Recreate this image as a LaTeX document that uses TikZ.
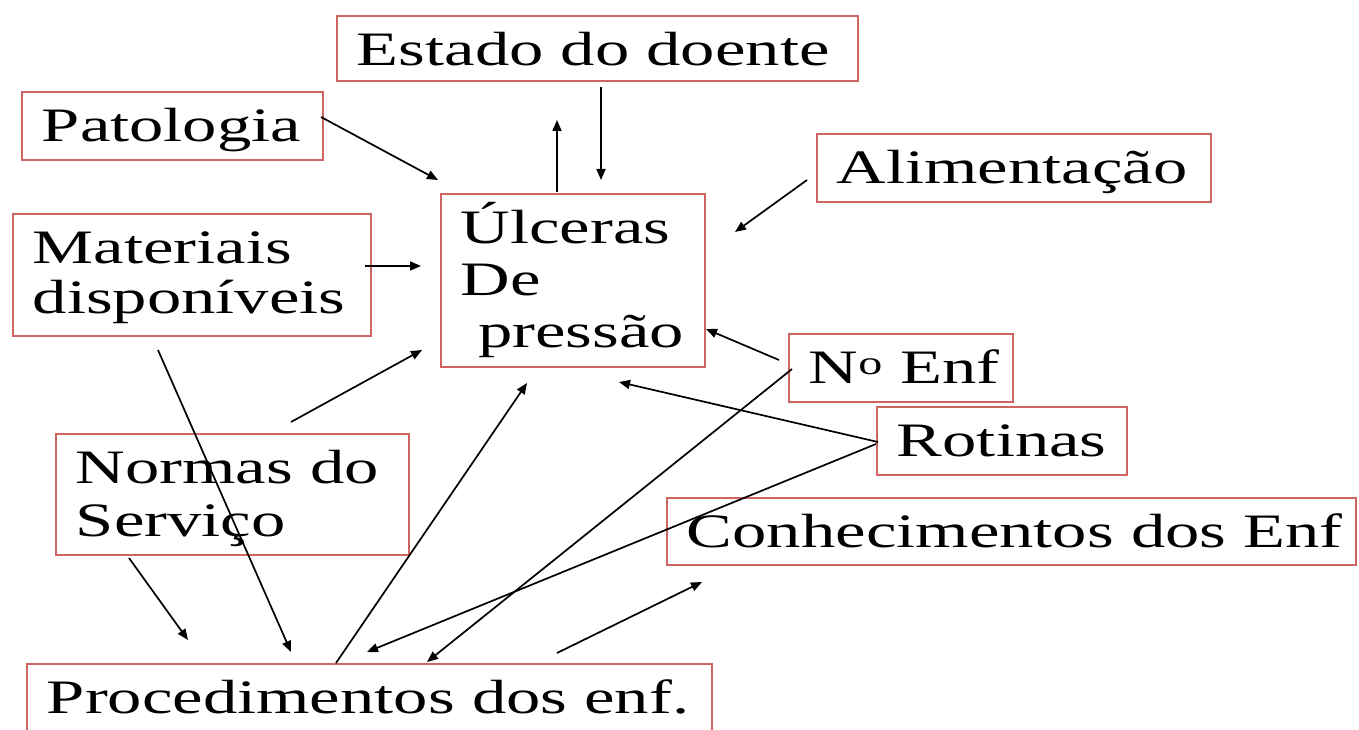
\documentclass[tikz,border=0pt]{standalone}
\usepackage{fontspec}
\setmainfont{Liberation Serif}
\usepackage{graphicx}
\usetikzlibrary{arrows.meta}
\definecolor{boxred}{RGB}{208,100,96}
\newcommand{\sx}[1]{\scalebox{1.43}[1]{#1}}
\newcommand{\stk}[1]{\begin{tabular}[t]{@{}l@{}}#1\end{tabular}}
\newcommand{\bx}[2]{\makebox[#1][l]{\hspace{20pt}\sx{#2}}}
\begin{document}
\begin{tikzpicture}[x=1pt,y=-1pt,
  box/.style={draw=boxred, line width=1.7pt, anchor=north west, inner sep=0pt,
    text height=50pt, font=\fontsize{48}{50}\selectfont},
  ar/.style={-{Triangle[length=11pt,width=9pt]}, line width=1.7pt, black}]
\useasboundingbox (0,0) rectangle (1359,730);
\fill[white] (0,0) rectangle (1359,730);

% boxes
\node[box, text depth=15pt] (est) at (336,15) {\bx{521pt}{Estado do doente}};
\node[box, text depth=18pt] (pat) at (21,91) {\bx{301pt}{Patologia}};
\node[box, text depth=18pt] (ali) at (816,133) {\bx{394pt}{Alimentação}};
\node[box, text depth=123pt, font=\fontsize{48}{52}\selectfont] (ulc) at (440,193)
  {\bx{264pt}{\stk{Úlceras\\De\\\ pressão}}};
\node[box, text depth=72pt, font=\fontsize{48}{50}\selectfont] (mat) at (12,213)
  {\bx{358pt}{\stk{Materiais\\disponíveis}}};
\node[box, text depth=18pt] (nenf) at (788,333) {\bx{224pt}{N\textsuperscript{o} Enf}};
\node[box, text depth=18pt] (rot) at (876,406) {\bx{250pt}{Rotinas}};
\node[box, text depth=71pt, font=\fontsize{48}{53}\selectfont] (nor) at (55,433)
  {\bx{353pt}{\stk{Normas do\\Serviço}}};
\node[box, text depth=17pt] (con) at (666,497) {\bx{689pt}{Conhecimentos dos Enf}};
\node[box, text depth=72pt] (pro) at (26,663) {\bx{685pt}{Procedimentos dos enf.}};

% connector end points
\coordinate (patO) at (321,117);   \coordinate (ulcI1) at (438,180);
\coordinate (ulcO1) at (557,192);  \coordinate (estI) at (557,120);
\coordinate (estO) at (601,87);    \coordinate (ulcI2) at (601,180);
\coordinate (aliO) at (807,180);   \coordinate (ulcI3) at (735,232);
\coordinate (matO1) at (365,266);  \coordinate (ulcI4) at (421,266);
\coordinate (norO1) at (291,422);  \coordinate (ulcI5) at (422,350);
\coordinate (matO2) at (158,350);  \coordinate (proI1) at (291,652);
\coordinate (norO2) at (129,558);  \coordinate (proI2) at (188,640);
\coordinate (proO1) at (336,663);  \coordinate (ulcI6) at (527,383);
\coordinate (nenfO1) at (779,360); \coordinate (ulcI7) at (706,329);
\coordinate (nenfO2) at (792,369); \coordinate (proI3) at (427,662);
\coordinate (rotO1) at (878,442);  \coordinate (ulcI8) at (619,382);
\coordinate (rotO2) at (876,444);  \coordinate (proI4) at (367,652);
\coordinate (proO2) at (557,653);  \coordinate (conI) at (702,582);

% connectors
\draw[ar] (patO) -- (ulcI1);
\draw[ar] (ulcO1) -- (estI);
\draw[ar] (estO) -- (ulcI2);
\draw[ar] (aliO) -- (ulcI3);
\draw[ar] (matO1) -- (ulcI4);
\draw[ar] (norO1) -- (ulcI5);
\draw[ar] (matO2) -- (proI1);
\draw[ar] (norO2) -- (proI2);
\draw[ar] (proO1) -- (ulcI6);
\draw[ar] (nenfO1) -- (ulcI7);
\draw[ar] (nenfO2) -- (proI3);
\draw[ar] (rotO1) -- (ulcI8);
\draw[ar] (rotO2) -- (proI4);
\draw[ar] (proO2) -- (conI);
\end{tikzpicture}
\end{document}
